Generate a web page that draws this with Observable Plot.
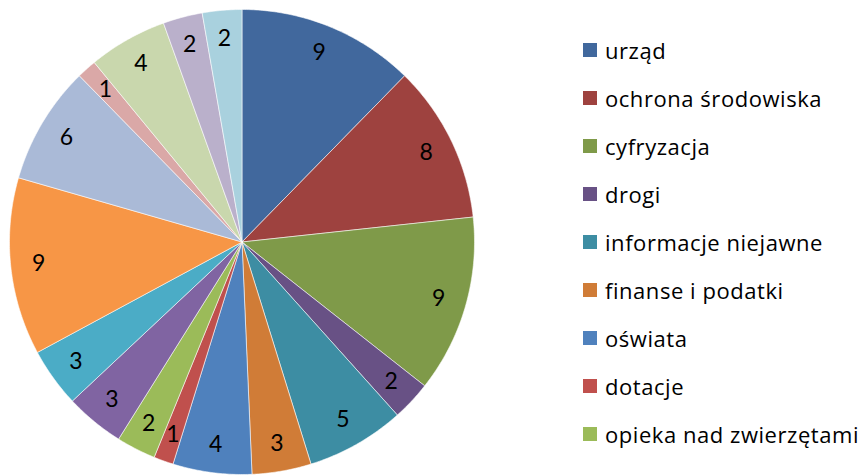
<!DOCTYPE html>
<html><head><meta charset="utf-8">
<script src="https://cdn.jsdelivr.net/npm/d3@7"></script>
<script src="https://cdn.jsdelivr.net/npm/@observablehq/plot@0.6"></script>
<style>
body{margin:0;background:#fff;}
#wrap{position:relative;width:864px;height:475px;overflow:hidden;font-family:Lato,"Open Sans",sans-serif;background:#fff;}
#chart{position:absolute;left:0;top:0;}
.item{position:absolute;left:583px;display:flex;align-items:center;white-space:nowrap;font-family:"Open Sans",Lato,sans-serif;font-size:22px;letter-spacing:0.55px;color:#000;transform:translateY(-50%);}
.sw{width:14px;height:14px;margin-right:8px;flex:none;}
</style></head><body><div id="wrap"><div id="chart"></div><div id="legend"></div></div>
<script>
// legend names visible in the reference (list is cut off after the 9th entry)
const categories = ["urząd","ochrona środowiska","cyfryzacja","drogi","informacje niejawne","finanse i podatki","oświata","dotacje","opieka nad zwierzętami"];
// slice values, clockwise from 12 o'clock
const values = [9,8,9,2,5,3,4,1,2,3,3,9,6,1,4,2,2];
const colors = ["#41689D","#9E423F","#7F9A49","#685185","#3D8DA3","#D07C37",
                "#4F81BD","#C0504D","#9BBB59","#8064A2","#4BACC6","#F79646",
                "#AABAD7","#DAA8A7","#C9D7AD","#BAB0CB","#A9D1DE"];

const R = 232.5, cx = 241.5, cy = 241.5;
const arcs = d3.pie().sort(null).startAngle(0).endAngle(2*Math.PI)(values);
const pts = [];
arcs.forEach((a, i) => {
  pts.push({slice: i, x: 0, y: 0});
  const n = Math.max(2, Math.ceil((a.endAngle - a.startAngle) / 0.01));
  for (let k = 0; k <= n; k++) {
    const t = a.startAngle + (a.endAngle - a.startAngle) * k / n;
    pts.push({slice: i, x: Math.sin(t), y: Math.cos(t)});
  }
  pts.push({slice: i, x: 0, y: 0});
});
const lr = 0.88;
const labels = arcs.map((a, i) => {
  const m = (a.startAngle + a.endAngle) / 2;
  return {x: lr * Math.sin(m), y: lr * Math.cos(m), text: String(values[i])};
});

const chart = Plot.plot({
  width: 864, height: 475, margin: 0,
  style: {fontFamily: "Lato, 'Open Sans', sans-serif", background: "white"},
  x: {domain: [-1, 1], range: [cx - R, cx + R], axis: null},
  y: {domain: [-1, 1], range: [cy + R, cy - R], axis: null},
  color: {domain: d3.range(values.length), range: colors},
  marks: [
    Plot.line(pts, {x: "x", y: "y", z: "slice", fill: "slice", stroke: "white", strokeWidth: 0.8, strokeOpacity: 0.7, curve: "linear"}),
    Plot.text(labels, {x: "x", y: "y", text: "text", fontSize: 23, fill: "black"})
  ]
});
document.getElementById("chart").appendChild(chart);

const leg = document.getElementById("legend");
categories.forEach((c, i) => {
  const d = document.createElement("div");
  d.className = "item";
  d.style.top = (49.5 + i * 48) + "px";
  d.innerHTML = `<div class="sw" style="background:${colors[i]}"></div><span>${c}</span>`;
  leg.appendChild(d);
});
</script>
</body></html>
